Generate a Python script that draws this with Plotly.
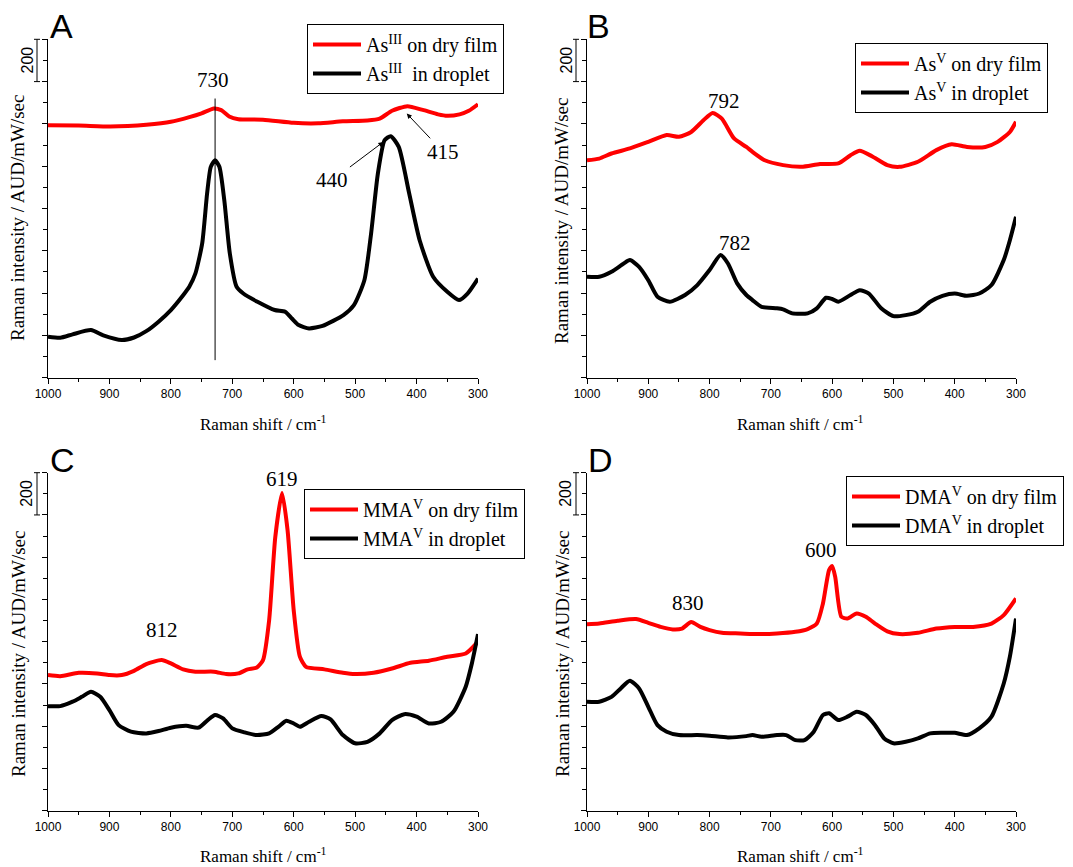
import plotly.graph_objects as go

# ---------------- data (Raman shift / cm-1, intensity) ----------------
a_red_x = [1000, 950, 900, 870, 840, 800, 770, 750, 730, 718, 705, 690, 650, 600, 560, 520, 480, 460, 440, 415, 390, 365, 350, 330, 315, 300]
a_red_y = [1194, 1192, 1188, 1190, 1196, 1210, 1232, 1250, 1273, 1265, 1235, 1222, 1220, 1205, 1203, 1212, 1216, 1225, 1262, 1284, 1266, 1245, 1238, 1245, 1262, 1293]
a_blk_x = [1000, 980, 960, 930, 910, 880, 860, 840, 820, 800, 780, 770, 760, 749, 741, 735, 728, 721, 713, 704, 693, 682, 659, 631, 614, 603, 592, 575, 553, 519, 502, 485, 474, 463, 452, 442, 429, 412, 395, 373, 350, 331, 317, 300]
a_blk_y = [194, 189, 205, 225, 200, 178, 190, 220, 265, 320, 390, 430, 493, 635, 871, 997, 1028, 997, 839, 587, 430, 398, 359, 320, 312, 280, 249, 233, 245, 296, 343, 461, 682, 965, 1123, 1142, 1091, 871, 650, 477, 406, 367, 398, 469]

b_red_x = [1000, 980, 960, 930, 900, 870, 850, 830, 810, 795, 780, 760, 740, 730, 710, 680, 650, 620, 590, 570, 555, 535, 510, 490, 460, 430, 405, 380, 350, 330, 310, 300]
b_red_y = [1028, 1036, 1060, 1084, 1115, 1147, 1139, 1162, 1217, 1252, 1225, 1131, 1091, 1068, 1028, 1005, 997, 1010, 1013, 1052, 1073, 1047, 1005, 997, 1021, 1076, 1104, 1091, 1091, 1115, 1162, 1210]
b_blk_x = [1000, 980, 960, 940, 930, 915, 900, 885, 865, 840, 820, 800, 782, 770, 755, 740, 730, 715, 690, 680, 665, 640, 625, 610, 600, 590, 570, 555, 540, 520, 500, 480, 460, 440, 420, 400, 380, 360, 340, 320, 310, 300]
b_blk_y = [477, 477, 501, 540, 556, 524, 461, 383, 359, 391, 438, 509, 580, 540, 446, 391, 367, 335, 328, 323, 304, 304, 328, 378, 372, 359, 391, 414, 398, 328, 291, 296, 312, 359, 387, 398, 387, 398, 438, 556, 650, 761]

c_red_x = [1000, 980, 950, 920, 900, 880, 860, 840, 815, 800, 780, 760, 730, 710, 690, 675, 660, 650, 640, 630, 619, 610, 600, 590, 580, 550, 520, 500, 470, 440, 410, 380, 350, 320, 300]
c_red_y = [642, 637, 653, 650, 642, 642, 662, 694, 713, 697, 669, 658, 658, 647, 650, 669, 678, 713, 902, 1296, 1504, 1328, 949, 729, 681, 669, 653, 647, 653, 673, 700, 710, 729, 744, 800]
c_blk_x = [1000, 980, 960, 945, 930, 915, 900, 885, 865, 840, 820, 800, 775, 755, 740, 728, 715, 700, 680, 660, 640, 625, 612, 600, 590, 575, 555, 540, 520, 500, 480, 460, 440, 420, 400, 380, 360, 340, 320, 310, 300]
c_blk_y = [495, 495, 516, 539, 563, 539, 476, 405, 374, 366, 377, 393, 402, 393, 429, 453, 437, 390, 371, 358, 366, 397, 426, 413, 397, 421, 448, 432, 358, 319, 326, 366, 429, 457, 445, 413, 421, 468, 587, 697, 836]

d_red_x = [1000, 980, 950, 920, 900, 880, 860, 845, 830, 815, 800, 780, 750, 720, 690, 660, 640, 625, 615, 605, 600, 595, 585, 575, 560, 545, 530, 510, 490, 460, 430, 400, 370, 340, 320, 300]
d_red_y = [883, 886, 899, 907, 889, 870, 858, 862, 893, 870, 855, 842, 839, 836, 839, 847, 860, 886, 981, 1139, 1158, 1107, 918, 910, 934, 918, 886, 849, 836, 842, 862, 870, 870, 886, 926, 1005]
d_blk_x = [1000, 980, 960, 945, 930, 915, 900, 885, 870, 850, 820, 800, 770, 740, 730, 715, 690, 675, 660, 645, 630, 615, 605, 590, 575, 560, 545, 530, 515, 500, 480, 460, 440, 420, 400, 380, 360, 340, 320, 310, 300]
d_blk_y = [516, 516, 539, 579, 615, 579, 492, 405, 374, 358, 358, 355, 347, 353, 358, 350, 358, 358, 334, 334, 374, 453, 461, 429, 445, 468, 453, 405, 342, 319, 326, 342, 366, 369, 369, 358, 390, 445, 602, 729, 910]

names = [
    ("As<sup>III</sup> on dry film", "As<sup>III</sup>  in droplet"),
    ("As<sup>V</sup> on dry film", "As<sup>V</sup> in droplet"),
    ("MMA<sup>V</sup> on dry film", "MMA<sup>V</sup> in droplet"),
    ("DMA<sup>V</sup> on dry film", "DMA<sup>V</sup> in droplet"),
]
panel_letters = ["A", "B", "C", "D"]
x_ticks = [1000, 900, 800, 700, 600, 500, 400, 300]
y_ticks = [0, 200, 400, 600, 800, 1000, 1200, 1400, 1600]

series = [
    (a_red_x, a_red_y, a_blk_x, a_blk_y),
    (b_red_x, b_red_y, b_blk_x, b_blk_y),
    (c_red_x, c_red_y, c_blk_x, c_blk_y),
    (d_red_x, d_red_y, d_blk_x, d_blk_y),
]

W, H = 1073, 867
# plot-area pixel boxes: (left, right, top, bottom)
boxes = [(48, 478, 39.3, 377.7), (587, 1016, 39.3, 377.7),
         (48, 478, 472.7, 810.7), (587, 1016, 472.7, 810.7)]
legend_pos = [(307, 24), (855, 43), (304, 489), (846, 476)]
ytitle_pos = [(18, 218), (562, 221), (18, 654), (562, 654)]
xtitle_pos = [(263, 423), (800, 423), (263, 855), (800, 855)]
letter_pos = [(61, 26), (598, 26), (62, 460), (600, 460)]

SERIF = "Liberation Serif, Times New Roman, serif"
SANS = "Liberation Sans, Arial, sans-serif"


def px(x):
    return x / W


def py(y):
    return 1 - y / H


fig = go.Figure()
layout = dict(template="none", width=W, height=H, margin=dict(l=0, r=0, t=0, b=0, autoexpand=False),
              plot_bgcolor="white", paper_bgcolor="white", showlegend=True)
annotations = []
shapes = []

for i, (rx, ry, bx, by) in enumerate(series):
    n = "" if i == 0 else str(i + 1)
    xa, ya = "x" + n, "y" + n
    leg = "legend" + n
    fig.add_trace(go.Scatter(x=rx, y=ry, mode="lines", name=names[i][0],
                             line=dict(color="#ff0000", width=4, shape="spline", smoothing=0.6),
                             xaxis=xa, yaxis=ya, legend=leg))
    fig.add_trace(go.Scatter(x=bx, y=by, mode="lines", name=names[i][1],
                             line=dict(color="#000000", width=4, shape="spline", smoothing=0.6),
                             xaxis=xa, yaxis=ya, legend=leg))
    l, r, t, b = boxes[i]
    layout["xaxis" + n] = dict(
        domain=[px(l), px(r)], range=[1000, 300], anchor=ya, automargin=False,
        tickmode="array", tickvals=x_ticks, ticks="outside", ticklen=5, tickwidth=1,
        tickcolor="black",
        minor=dict(dtick=50, tick0=0, ticks="outside", ticklen=3, tickcolor="black", showgrid=False),
        showline=True, linecolor="black", linewidth=1, showgrid=False, zeroline=False,
        tickfont=dict(family=SANS, size=12, color="black"))
    layout["yaxis" + n] = dict(
        domain=[py(b), py(t)], range=[0, 1600], anchor=xa, automargin=False,
        tickmode="array", tickvals=y_ticks, showticklabels=False, ticks="outside", ticklen=5,
        tickwidth=1, tickcolor="black",
        minor=dict(dtick=100, tick0=0, ticks="outside", ticklen=4, tickcolor="black", showgrid=False),
        showline=True, linecolor="black", linewidth=1, showgrid=False, zeroline=False)
    lx, ly = legend_pos[i]
    layout[leg] = dict(x=px(lx), y=py(ly), xanchor="left", yanchor="top",
                       bgcolor="white", bordercolor="black", borderwidth=1,
                       font=dict(family=SERIF, size=20, color="black"),
                       itemwidth=48, tracegroupgap=0)
    # panel letter
    lx, ly = letter_pos[i]
    annotations.append(dict(text=panel_letters[i], xref="paper", yref="paper",
                            x=px(lx), y=py(ly), xanchor="center", yanchor="middle",
                            showarrow=False, font=dict(family=SANS, size=34, color="black")))
    # y title
    tx, ty = ytitle_pos[i]
    annotations.append(dict(text="Raman intensity / AUD/mW/sec", xref="paper", yref="paper",
                            x=px(tx), y=py(ty), xanchor="center", yanchor="middle",
                            textangle=-90, showarrow=False,
                            font=dict(family=SERIF, size=19, color="black")))
    # x title
    tx, ty = xtitle_pos[i]
    annotations.append(dict(text="Raman shift / cm<sup>-1</sup>", xref="paper", yref="paper",
                            x=px(tx), y=py(ty), xanchor="center", yanchor="middle",
                            showarrow=False,
                            font=dict(family=SERIF, size=17, color="black")))
    # scale bar (200 intensity units = 1/8 of the axis)
    seg = (b - t) / 8
    shapes.append(dict(type="line", xref="paper", yref="paper", x0=px(l - 11), x1=px(l - 11),
                       y0=py(t), y1=py(t + seg), line=dict(color="black", width=1)))
    for yy in (t, t + seg):
        shapes.append(dict(type="line", xref="paper", yref="paper", x0=px(l - 14), x1=px(l - 8),
                           y0=py(yy), y1=py(yy), line=dict(color="black", width=1)))
    annotations.append(dict(text="200", xref="paper", yref="paper", x=px(l - 21), y=py(t + seg / 2),
                            xanchor="center", yanchor="middle", textangle=-90, showarrow=False,
                            font=dict(family=SANS, size=16, color="black")))

# peak labels
peak_labels = [
    ("x", "y", "730", 732, 1406),
    ("x2", "y2", "792", 776, 1308),
    ("x2", "y2", "782", 758, 635),
    ("x3", "y3", "619", 619, 1572),
    ("x3", "y3", "812", 814, 855),
    ("x4", "y4", "600", 619, 1235),
    ("x4", "y4", "830", 836, 984),
]
for xa, ya, txt, lx, ly in peak_labels:
    annotations.append(dict(text=txt, xref=xa, yref=ya, x=lx, y=ly, showarrow=False,
                            xanchor="center", yanchor="middle",
                            font=dict(family=SERIF, size=21, color="black")))

# arrows in panel A
arrows = [("440", 454, 1115, 537, 934), ("415", 416, 1249, 357, 1068)]
for txt, tipx, tipy, tx, ty in arrows:
    annotations.append(dict(text=txt, xref="x", yref="y", x=tipx, y=tipy,
                            axref="x", ayref="y", ax=tx, ay=ty, showarrow=True,
                            arrowhead=2, arrowsize=1, arrowwidth=1, arrowcolor="black",
                            font=dict(family=SERIF, size=21, color="black")))

# vertical marker line in panel A
shapes.append(dict(type="line", xref="x", yref="y", x0=728, x1=728, y0=83, y1=1320,
                   line=dict(color="black", width=1)))

layout["annotations"] = annotations
layout["shapes"] = shapes
fig.update_layout(**layout)
fig.write_html("out.html")
